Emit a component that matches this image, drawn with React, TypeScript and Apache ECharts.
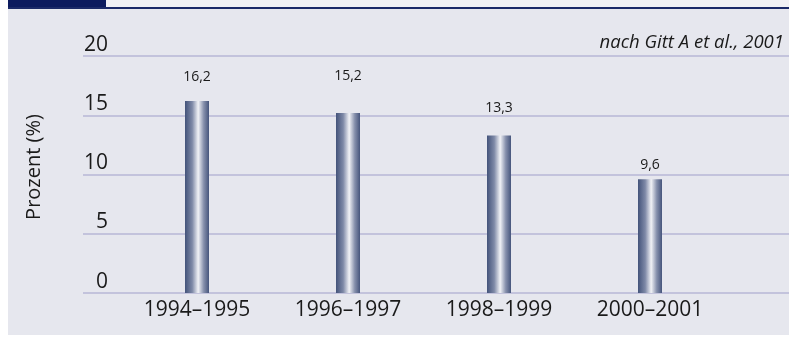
import React, { useEffect, useRef } from "react";
import * as echarts from "echarts";

const categories = ["1994–1995", "1996–1997", "1998–1999", "2000–2001"];
const values = [16.2, 15.2, 13.3, 9.6];
const labelTexts = ["16,2", "15,2", "13,3", "9,6"];
const labelGaps = [19, 31, 22, 9];
const yTicks = [0, 5, 10, 15, 20];

const FONT = "'Open Sans', 'Noto Sans', sans-serif";

export default function App() {
  const ref = useRef<HTMLDivElement>(null);
  useEffect(() => {
    if (!ref.current) return;
    const chart = echarts.init(ref.current, undefined, { renderer: "svg" });
    const barColor = new echarts.graphic.LinearGradient(0, 0, 1, 0, [
      { offset: 0, color: "#43537a" },
      { offset: 0.3, color: "#7e89a7" },
      { offset: 0.55, color: "#f1f2f6" },
      { offset: 0.78, color: "#8690ac" },
      { offset: 1, color: "#46557c" },
    ]);
    chart.setOption({
      animation: false,
      graphic: [
        { type: "rect", shape: { x: 8, y: 0, width: 781, height: 8 }, style: { fill: "#f1f1f5" }, z: -10 },
        { type: "rect", shape: { x: 8, y: 8, width: 781, height: 327 }, style: { fill: "#e6e7ee" }, z: -10 },
        { type: "rect", shape: { x: 8, y: 0, width: 98, height: 8 }, style: { fill: "#0c1b5e" }, z: -5 },
        { type: "rect", shape: { x: 8, y: 7, width: 781, height: 2 }, style: { fill: "#1b2a68" }, z: -5 },
        {
          type: "text",
          x: 32,
          y: 167,
          rotation: Math.PI / 2,
          style: {
            text: "Prozent (%)",
            fontSize: 20,
            fontFamily: FONT,
            fill: "#1a1a1a",
            align: "center",
            verticalAlign: "middle",
          },
        },
        {
          type: "text",
          x: 784,
          y: 50,
          style: {
            text: "nach Gitt A et al., 2001",
            fontSize: 18.5,
            fontStyle: "italic",
            fontFamily: FONT,
            fill: "#1a1a1a",
            align: "right",
            verticalAlign: "bottom",
          },
        },
      ],
      grid: [
        { left: 83, right: 0, top: 56, bottom: 44 },
        { left: 121.5, width: 604, top: 56, bottom: 44 },
      ],
      xAxis: [
        { gridIndex: 0, type: "value", show: false, min: 0, max: 1 },
        {
          gridIndex: 1,
          type: "category",
          data: categories,
          axisLine: { show: false },
          axisTick: { show: false },
          axisLabel: { fontSize: 21, fontFamily: FONT, color: "#1a1a1a", margin: 4 },
        },
      ],
      yAxis: [
        {
          gridIndex: 0,
          type: "value",
          min: yTicks[0],
          max: yTicks[yTicks.length - 1],
          interval: yTicks[1] - yTicks[0],
          axisLine: { show: false },
          axisTick: { show: false },
          splitLine: { show: true, lineStyle: { color: "#c3c3dc", width: 2 } },
          axisLabel: {
            inside: true,
            align: "right",
            verticalAlign: "bottom",
            padding: [0, 0, 3, 0],
            margin: 25,
            fontSize: 21,
            fontFamily: FONT,
            color: "#1a1a1a",
          },
        },
        { gridIndex: 1, type: "value", min: 0, max: 20, show: false },
      ],
      series: [
        {
          type: "bar",
          xAxisIndex: 1,
          yAxisIndex: 1,
          barWidth: 24,
          itemStyle: { color: barColor },
          data: values.map((v, i) => ({
            value: v,
            label: {
              show: true,
              position: "top",
              distance: labelGaps[i],
              formatter: labelTexts[i],
              fontSize: 14,
              fontFamily: FONT,
              color: "#1a1a1a",
            },
          })),
        },
      ],
    });
    return () => chart.dispose();
  }, []);
  return (
    <div
      ref={ref}
      style={{ position: "fixed", left: 0, top: 0, width: 789, height: 337 }}
    />
  );
}
